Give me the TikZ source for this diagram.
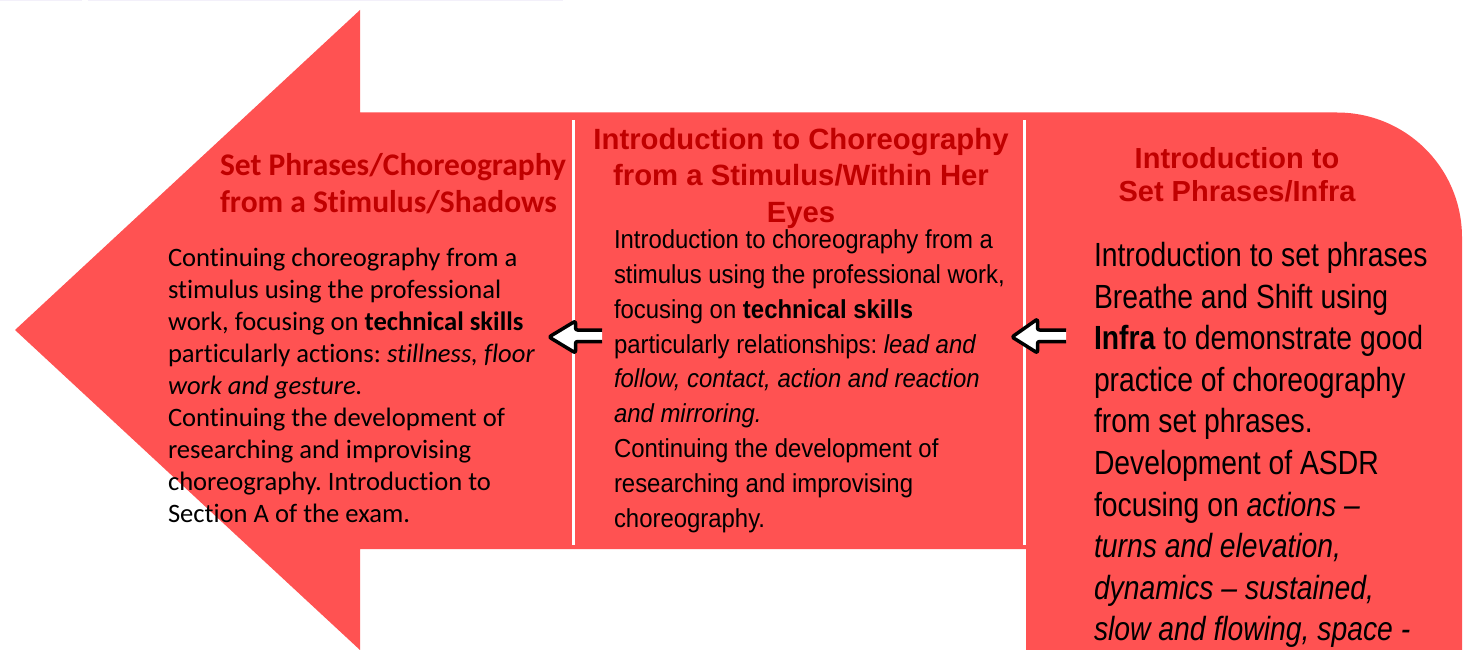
\documentclass[tikz,border=0pt]{standalone}
\usepackage{fontspec}
\setmainfont{Carlito}[Ligatures={NoCommon}]
\newfontfamily\arialN[FakeStretch=0.92]{Liberation Sans}
\newfontfamily\arialNN[FakeStretch=0.845]{Liberation Sans}
\newfontfamily\arialH{Liberation Sans}
\definecolor{arrowred}{RGB}{255,82,82}
\definecolor{headred}{RGB}{192,0,0}
\definecolor{lav}{RGB}{243,240,250}
\frenchspacing
\tikzset{
  txt/.style={inner sep=0pt, outer sep=0pt},
  lhead/.style={txt, anchor=north west, align=left, text=headred, font=\bfseries\fontsize{31.5}{37}\selectfont},
  lbody/.style={txt, anchor=north west, align=left, text=black, font=\fontsize{26.6}{32}\selectfont},
  mhead/.style={txt, anchor=north, align=center, text=headred, font=\arialH\bfseries\fontsize{29.3}{36.3}\selectfont},
  mbody/.style={txt, anchor=north west, align=left, text=black, font=\arialN\fontsize{26}{34.9}\selectfont},
  rhead/.style={txt, anchor=north, align=center, text=headred, font=\arialH\bfseries\fontsize{29}{33.4}\selectfont},
  rbody/.style={txt, anchor=north west, align=left, text=black, font=\arialNN\fontsize{33.5}{41.56}\selectfont},
  divider/.style={white, line width=3pt},
  blockarrow/.style={black, line width=3.5pt, rounded corners=2pt, line join=round},
}
\begin{document}
\begin{tikzpicture}[x=1pt, y=-1pt]
\useasboundingbox (0,0) rectangle (1476,650);
% faint line at top
\fill[lav] (0,0) rectangle (82,1.5);
\fill[lav] (88,0) rectangle (563,1.5);
% big arrow shape
\fill[arrowred] (15,330) -- (360,10) -- (360,112.5) -- (1337,112.5)
  .. controls (1406,112.5) and (1462,168) .. (1462,237.5)
  -- (1462,660) -- (1026,660) -- (1026,549) -- (360,549) -- (360,650) -- cycle;
% white dividers
\coordinate (d1t) at (573,120); \coordinate (d1b) at (573,545);
\coordinate (d2t) at (1024,120); \coordinate (d2b) at (1024,545);
\draw[divider] (d1t) -- (d1b);
\draw[divider] (d2t) -- (d2b);
% small block arrows
\fill[white] (602,330) -- (575.5,330) -- (575.5,321) -- (549,337) -- (575.5,353) -- (575.5,341.5) -- (602,341.5) -- cycle;
\draw[blockarrow] (602,330) -- (575.5,330) -- (575.5,321) -- (549,337) -- (575.5,353) -- (575.5,341.5) -- (602,341.5);
\fill[white] (1066,330) -- (1037.5,330) -- (1037.5,319) -- (1012,337) -- (1037.5,353) -- (1037.5,341.5) -- (1066,341.5) -- cycle;
\draw[blockarrow] (1066,330) -- (1037.5,330) -- (1037.5,319) -- (1012,337) -- (1037.5,353) -- (1037.5,341.5) -- (1066,341.5);
% left column
\node[lhead] (lh) at (220,149.1) {\strut Set Phrases/Choreography\\from a Stimulus/Shadows};
\node[lbody] (lb) at (168,243.6) {\strut Continuing choreography from a\\
stimulus using the professional\\
work, focusing on \textbf{technical skills}\\
particularly actions: \textit{stillness, floor}\\
\textit{work and gesture.}\\
Continuing the development of\\
researching and improvising\\
choreography. Introduction to\\
Section A of the exam.};
% middle column
\node[mhead] (mh) at (801,124.1) {\strut Introduction to Choreography\\from a Stimulus/Within Her\\Eyes};
\node[mbody] (mb) at (614,223.9) {\strut Introduction to choreography from a\\
stimulus using the professional work,\\
focusing on \textbf{technical skills}\\
particularly relationships: \textit{lead and}\\
\textit{follow, contact, action and reaction}\\
\textit{and mirroring.}\\
Continuing the development of\\
researching and improvising\\
choreography.};
% right column
\node[rhead] (rh) at (1237,144.9) {\strut Introduction to\\Set Phrases/Infra};
\node[rbody] (rb) at (1094,237.6) {\strut Introduction to set phrases\\
Breathe and Shift using\\
\textbf{Infra} to demonstrate good\\
practice of choreography\\
from set phrases.\\
Development of ASDR\\
focusing on \textit{actions –}\\
\textit{turns and elevation,}\\
\textit{dynamics – sustained,}\\
\textit{slow and flowing, space -}};
\end{tikzpicture}
\end{document}
